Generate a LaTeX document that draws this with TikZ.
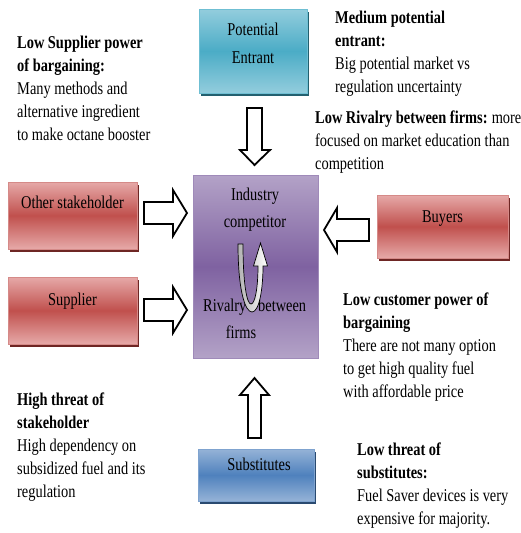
\documentclass[tikz,border=0pt]{standalone}
\usepackage{fontspec}
\setmainfont{Liberation Serif}[FakeStretch=0.8]
\usetikzlibrary{shadows}
\definecolor{tealE}{HTML}{93CDDD}
\definecolor{tealM}{HTML}{4BACC6}
\definecolor{tealB}{HTML}{6FBFD3}
\definecolor{tealS}{HTML}{23606F}
\definecolor{purE}{HTML}{B3A2C7}
\definecolor{purM}{HTML}{7F62A1}
\definecolor{purB}{HTML}{9F8AB9}
\definecolor{redE}{HTML}{E6A9A8}
\definecolor{redM}{HTML}{C0504D}
\definecolor{redB}{HTML}{D58A88}
\definecolor{redS}{HTML}{6E2624}
\definecolor{bluE}{HTML}{95B3D7}
\definecolor{bluM}{HTML}{4F81BD}
\definecolor{bluB}{HTML}{7FA3CF}
\definecolor{bluS}{HTML}{2A4A70}
\tikzset{
  forcebox/.style={rectangle, inner sep=0, line width=0.8pt},
  tealbox/.style={forcebox, draw=tealB, top color=tealE, bottom color=tealE, middle color=tealM,
    drop shadow={shadow xshift=2pt, shadow yshift=-3pt, fill=tealS, opacity=1}},
  purbox/.style={forcebox, draw=purB, top color=purE, bottom color=purE, middle color=purM},
  redbox/.style={forcebox, draw=redB, top color=redE, bottom color=redE, middle color=redM,
    drop shadow={shadow xshift=2pt, shadow yshift=-3pt, fill=redS, opacity=1}},
  blubox/.style={forcebox, draw=bluB, top color=bluE, bottom color=bluE, middle color=bluM,
    drop shadow={shadow xshift=2pt, shadow yshift=-3pt, fill=bluS, opacity=1}},
  lbl/.style={inner sep=0, anchor=base, font=\fontsize{18}{23}\selectfont},
  blk/.style={inner sep=0, anchor=north west, align=left, font=\fontsize{18}{23}\selectfont},
  blockarrow/.style={draw=black, fill=white, line width=1.8pt, line join=miter},
}
\begin{document}
\begin{tikzpicture}[x=1pt, y=-1pt]
\useasboundingbox (0,0) rectangle (521,533);

% boxes
\node[tealbox, minimum width=108pt, minimum height=84pt] (pe) at (253,51) {};
\node[purbox, minimum width=125pt, minimum height=183pt] (ind) at (255.5,266.5) {};
\node[redbox, minimum width=129pt, minimum height=67pt] (os) at (72.5,215.5) {};
\node[redbox, minimum width=129pt, minimum height=67pt] (sup) at (72.5,310.5) {};
\node[redbox, minimum width=131pt, minimum height=63pt] (buy) at (442.5,226.5) {};
\node[blubox, minimum width=116pt, minimum height=52pt] (sub) at (256,475) {};

% box labels
\node[lbl] (tpe1) at (253,35) {Potential};
\node[lbl] (tpe2) at (253,63) {Entrant};
\node[lbl] (tind1) at (255,200) {Industry};
\node[lbl] (tind2) at (255,227) {competitor};
\node[lbl, anchor=base west] (triv) at (203,311) {Rivalry};
\node[lbl, anchor=base west] (tbet) at (258,311) {between};
\node[lbl] (tfirms) at (241,338) {firms};
\node[lbl] (tos) at (72.5,208) {Other stakeholder};
\node[lbl] (tsup) at (72.5,305) {Supplier};
\node[lbl] (tbuy) at (442.5,222) {Buyers};
\node[lbl] (tsub) at (259,470) {Substitutes};

% block arrows
\draw[blockarrow] (247,108) -- (262,108) -- (262,150) -- (270,150) -- (254.5,165) -- (240,150) -- (247,150) -- cycle;
\draw[blockarrow] (248,438) -- (261,438) -- (261,395) -- (269,395) -- (254.5,378) -- (240,395) -- (248,395) -- cycle;
\draw[blockarrow] (144,202) -- (173,202) -- (173,190) -- (187,213) -- (173,236) -- (173,224) -- (144,224) -- cycle;
\draw[blockarrow] (144,299) -- (173,299) -- (173,287) -- (187,310) -- (173,333) -- (173,321) -- (144,321) -- cycle;
\draw[blockarrow] (369,219) -- (337,219) -- (337,208) -- (324,230) -- (337,252) -- (337,241) -- (369,241) -- cycle;

% U-turn arrow inside industry box
\draw[line width=0.7pt, left color=black!30, right color=white]
  (238,244) .. controls (238,290) and (245,312) .. (252,312)
  .. controls (259,312) and (263,290) .. (263,266)
  -- (267.5,266) -- (260.5,243) -- (253.5,266) -- (258,266)
  .. controls (258,288) and (255,304) .. (251,304)
  .. controls (247,304) and (243,285) .. (243,244) -- cycle;

% text blocks
\node[blk] (tl) at (17,35.7) {\textbf{Low Supplier power}\\\textbf{of bargaining:}\\Many methods and\\alternative ingredient\\to make octane booster};
\node[blk] (tr) at (335,10.7) {\textbf{Medium potential}\\\textbf{entrant:}\\Big potential market vs\\regulation uncertainty};
\node[blk] (riv) at (315,111) {\textbf{Low Rivalry between firms:}\hspace{-0.6pt} more\\focused on market education than\\competition};
\node[blk] (lc) at (343,292.7) {\textbf{Low customer power of}\\\textbf{bargaining}\\There are not many option\\to get high quality fuel\\with affordable price};
\node[blk] (ht) at (17,392.7) {\textbf{High threat of}\\\textbf{stakeholder}\\High dependency on\\subsidized fuel and its\\regulation};
\node[blk] (lt) at (357,442.7) {\textbf{Low threat of}\\\textbf{substitutes:}\\Fuel Saver devices is very\\expensive for majority.};
\end{tikzpicture}
\end{document}
